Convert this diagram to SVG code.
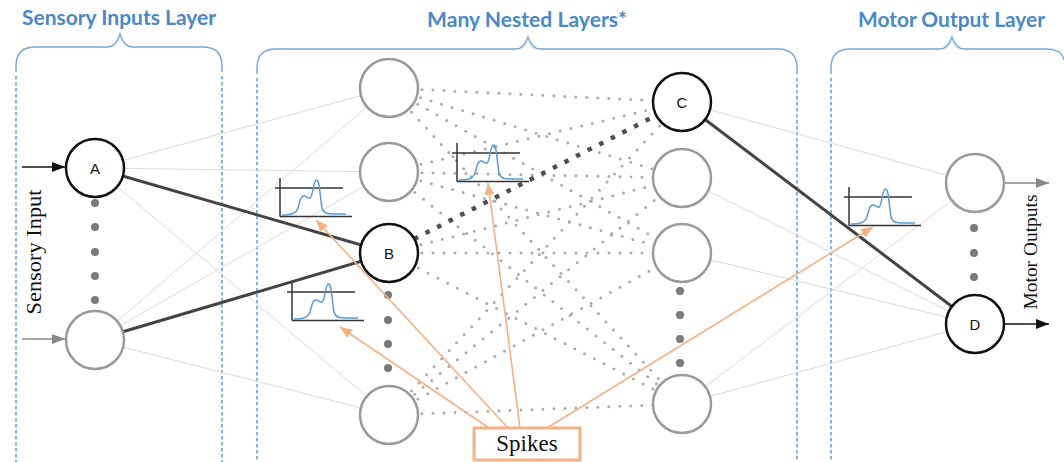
<svg xmlns="http://www.w3.org/2000/svg" width="1064" height="462" viewBox="0 0 1064 462">
  <style>
    .hdr { font-family: Lato, "Open Sans", "Liberation Sans", sans-serif; font-weight: bold; font-size: 20px; fill: #4a88c7; }
    .brace { fill: none; stroke: #74a9dc; stroke-width: 1.5; }
    .sep { fill: none; stroke: #6aa2d8; stroke-width: 1.6; stroke-dasharray: 3.5 2.5; }
    .faint { stroke: #dcdcdc; stroke-width: 1; fill: none; }
    .dots { stroke: #ababab; stroke-width: 3; stroke-dasharray: 0 11; stroke-linecap: round; fill: none; }
    .dark { stroke: #444; stroke-width: 3; fill: none; }
    .darkdots { stroke: #4d4d4d; stroke-width: 4.5; stroke-dasharray: 4.5 8.5; fill: none; }
    .spike { stroke: #f4b183; stroke-width: 1.6; fill: none; marker-end: url(#orangeHead); }
    .on { fill: #fff; stroke: #111; stroke-width: 2.5; }
    .off { fill: #fff; stroke: #9a9a9a; stroke-width: 2.5; }
    .lbl { font-family: "Liberation Sans", Arial, sans-serif; font-size: 15px; fill: #111; text-anchor: middle; }
    .pip { fill: #7a7a7a; }
    .serif { font-family: "Liberation Serif", "Times New Roman", serif; fill: #111; }
    .axis { stroke: #333; stroke-width: 1.5; fill: none; }
    .trace { stroke: #5b9bd5; stroke-width: 1.5; fill: none; }
  </style>
  <defs>
    <marker id="orangeHead" markerUnits="userSpaceOnUse" markerWidth="12" markerHeight="10" refX="12" refY="5" orient="auto">
      <path d="M0,0 L12,5 L0,10 z" fill="#f4b183"/>
    </marker>
    <marker id="blackHead" markerUnits="userSpaceOnUse" markerWidth="13" markerHeight="10" refX="13" refY="5" orient="auto">
      <path d="M0,0 L13,5 L0,10 z" fill="#111"/>
    </marker>
    <marker id="grayHead" markerUnits="userSpaceOnUse" markerWidth="13" markerHeight="10" refX="13" refY="5" orient="auto">
      <path d="M0,0 L13,5 L0,10 z" fill="#888"/>
    </marker>
    <!-- small membrane-potential chart: threshold line, axes and a spike trace -->
    <g id="chart">
      <line class="axis" x1="-5" y1="10" x2="63" y2="10"/>
      <line class="axis" x1="0" y1="0" x2="0" y2="38.5"/>
      <line class="axis" x1="0" y1="38.5" x2="72" y2="38.5"/>
      <path class="trace" d="M2,37 C10,37 16,36 18,30 C20,22 21,18 24,18 C27,18 28,21 30,20 C33,19 33,2 36.5,2 C40,2 40,20 42,30 C44,36 48,36 56,36 L66,36"/>
    </g>
  </defs>

  <rect width="1064" height="462" fill="#fff"/>

  <!-- layer braces and separators -->
  <g id="layer-frames">
    <path class="brace" d="M16,72 L16,66 Q16,47 35,47 L108,47 Q116,47 120,34 Q124,47 132,47 L203,47 Q222,47 222,66 L222,72"/>
    <path class="brace" d="M257,74 L257,68 Q257,49 276,49 L516,49 Q524,49 528,37 Q532,49 540,49 L778,49 Q797,49 797,68 L797,74"/>
    <path class="brace" d="M831,74 L831,68 Q831,49 850,49 L940,49 Q948,49 952,37 Q956,49 964,49 L1046,49 Q1062,49 1064,60"/>
    <line class="sep" x1="16" y1="76" x2="16" y2="462"/>
    <line class="sep" x1="222" y1="76" x2="222" y2="462"/>
    <line class="sep" x1="257" y1="78" x2="257" y2="462"/>
    <line class="sep" x1="797" y1="78" x2="797" y2="462"/>
    <line class="sep" x1="831" y1="78" x2="831" y2="462"/>
    <text class="hdr" x="22" y="25" textLength="194" lengthAdjust="spacingAndGlyphs">Sensory Inputs Layer</text>
    <text class="hdr" x="427" y="27" textLength="200" lengthAdjust="spacingAndGlyphs">Many Nested Layers*</text>
    <text class="hdr" x="858" y="27" textLength="187" lengthAdjust="spacingAndGlyphs">Motor Output Layer</text>
  </g>

  <!-- connections -->
  <g id="connectors">
    <!-- input layer to first hidden column -->
    <line class="faint" x1="95" y1="168" x2="389" y2="88"/>
    <line class="faint" x1="95" y1="168" x2="389" y2="172"/>
    <line class="faint" x1="95" y1="168" x2="389" y2="415"/>
    <line class="faint" x1="95" y1="340" x2="389" y2="88"/>
    <line class="faint" x1="95" y1="340" x2="389" y2="172"/>
    <line class="faint" x1="95" y1="340" x2="389" y2="415"/>
    <!-- last hidden column to output layer -->
    <line class="faint" x1="682" y1="102" x2="975" y2="183"/>
    <line class="faint" x1="682" y1="178" x2="975" y2="324"/>
    <line class="faint" x1="682" y1="253" x2="975" y2="324"/>
    <line class="faint" x1="682" y1="404" x2="975" y2="183"/>
    <line class="faint" x1="682" y1="404" x2="975" y2="324"/>
    <!-- nested hidden layers (dotted) -->
    <line class="dots" x1="389" y1="88" x2="682" y2="102"/>
    <line class="dots" x1="389" y1="88" x2="682" y2="178"/>
    <line class="dots" x1="389" y1="88" x2="682" y2="253"/>
    <line class="dots" x1="389" y1="88" x2="682" y2="404"/>
    <line class="dots" x1="389" y1="172" x2="682" y2="102"/>
    <line class="dots" x1="389" y1="172" x2="682" y2="178"/>
    <line class="dots" x1="389" y1="172" x2="682" y2="253"/>
    <line class="dots" x1="389" y1="172" x2="682" y2="404"/>
    <line class="dots" x1="389" y1="253" x2="682" y2="178"/>
    <line class="dots" x1="389" y1="253" x2="682" y2="253"/>
    <line class="dots" x1="389" y1="253" x2="682" y2="404"/>
    <line class="dots" x1="389" y1="415" x2="682" y2="102"/>
    <line class="dots" x1="389" y1="415" x2="682" y2="178"/>
    <line class="dots" x1="389" y1="415" x2="682" y2="253"/>
    <line class="dots" x1="389" y1="415" x2="682" y2="404"/>
    <!-- active path A, B, C, D -->
    <line class="dark" x1="95" y1="168" x2="389" y2="253"/>
    <line class="dark" x1="95" y1="340" x2="389" y2="253"/>
    <line class="darkdots" x1="414" y1="239" x2="657" y2="115"/>
    <line class="dark" x1="682" y1="102" x2="975" y2="324"/>
    <!-- inputs and outputs -->
    <line x1="22" y1="167" x2="65" y2="167" stroke="#111" stroke-width="1.6" marker-end="url(#blackHead)"/>
    <line x1="22" y1="339" x2="65" y2="339" stroke="#888" stroke-width="1.6" marker-end="url(#grayHead)"/>
    <line x1="1004" y1="183" x2="1049" y2="183" stroke="#888" stroke-width="1.6" marker-end="url(#grayHead)"/>
    <line x1="1005" y1="324" x2="1049" y2="324" stroke="#111" stroke-width="1.6" marker-end="url(#blackHead)"/>
  </g>

  <!-- input layer -->
  <g id="node-A">
    <circle class="on" cx="95" cy="168" r="29"/>
    <text class="lbl" x="95" y="173.5">A</text>
  </g>
  <g id="input-ellipsis">
    <circle class="pip" cx="95" cy="203" r="4"/>
    <circle class="pip" cx="95" cy="227" r="4"/>
    <circle class="pip" cx="95" cy="252" r="4"/>
    <circle class="pip" cx="95" cy="276" r="4"/>
    <circle class="pip" cx="95" cy="300" r="4"/>
  </g>
  <g id="node-input-2">
    <circle class="off" cx="95" cy="340" r="29"/>
  </g>

  <!-- first hidden column -->
  <g id="node-h1-1"><circle class="off" cx="389" cy="88" r="29"/></g>
  <g id="node-h1-2"><circle class="off" cx="389" cy="172" r="29"/></g>
  <g id="node-B">
    <circle class="on" cx="389" cy="253" r="29"/>
    <text class="lbl" x="389" y="258.5">B</text>
  </g>
  <g id="h1-ellipsis">
    <circle class="pip" cx="388" cy="295" r="4"/>
    <circle class="pip" cx="388" cy="320" r="4"/>
    <circle class="pip" cx="388" cy="344" r="4"/>
    <circle class="pip" cx="388" cy="368" r="4"/>
  </g>
  <g id="node-h1-4"><circle class="off" cx="389" cy="415" r="29"/></g>

  <!-- last hidden column -->
  <g id="node-C">
    <circle class="on" cx="682" cy="102" r="29"/>
    <text class="lbl" x="682" y="107.5">C</text>
  </g>
  <g id="node-h2-2"><circle class="off" cx="682" cy="178" r="29"/></g>
  <g id="node-h2-3"><circle class="off" cx="682" cy="253" r="29"/></g>
  <g id="h2-ellipsis">
    <circle class="pip" cx="680" cy="291" r="4"/>
    <circle class="pip" cx="680" cy="315" r="4"/>
    <circle class="pip" cx="680" cy="339" r="4"/>
    <circle class="pip" cx="680" cy="363" r="4"/>
  </g>
  <g id="node-h2-4"><circle class="off" cx="682" cy="404" r="29"/></g>

  <!-- output layer -->
  <g id="node-out-1"><circle class="off" cx="975" cy="183" r="29"/></g>
  <g id="output-ellipsis">
    <circle class="pip" cx="974" cy="228" r="4"/>
    <circle class="pip" cx="974" cy="253" r="4"/>
    <circle class="pip" cx="974" cy="277" r="4"/>
  </g>
  <g id="node-D">
    <circle class="on" cx="975" cy="324" r="29"/>
    <text class="lbl" x="975" y="329.5">D</text>
  </g>

  <!-- spike charts -->
  <g id="charts">
    <use href="#chart" transform="translate(280,178)"/>
    <use href="#chart" transform="translate(292,282)"/>
    <use href="#chart" transform="translate(457,143)"/>
    <use href="#chart" transform="translate(849,187)"/>
  </g>

  <!-- spikes callout -->
  <g id="spikes">
    <line class="spike" x1="508" y1="428" x2="316" y2="220"/>
    <line class="spike" x1="489" y1="428" x2="340" y2="327"/>
    <line class="spike" x1="520" y1="428" x2="488" y2="183"/>
    <line class="spike" x1="547" y1="428" x2="873" y2="227"/>
    <rect x="474" y="428" width="106" height="32" fill="#fff" stroke="#f4b183" stroke-width="3"/>
    <text class="serif" x="527" y="451" font-size="23" text-anchor="middle">Spikes</text>
  </g>

  <!-- side captions -->
  <text class="serif" font-size="20" text-anchor="middle" textLength="125" lengthAdjust="spacingAndGlyphs" transform="translate(41,252) rotate(-90)">Sensory Input</text>
  <text class="serif" font-size="19" text-anchor="middle" textLength="115" lengthAdjust="spacingAndGlyphs" transform="translate(1037,252) rotate(-90)">Motor Outputs</text>
</svg>
